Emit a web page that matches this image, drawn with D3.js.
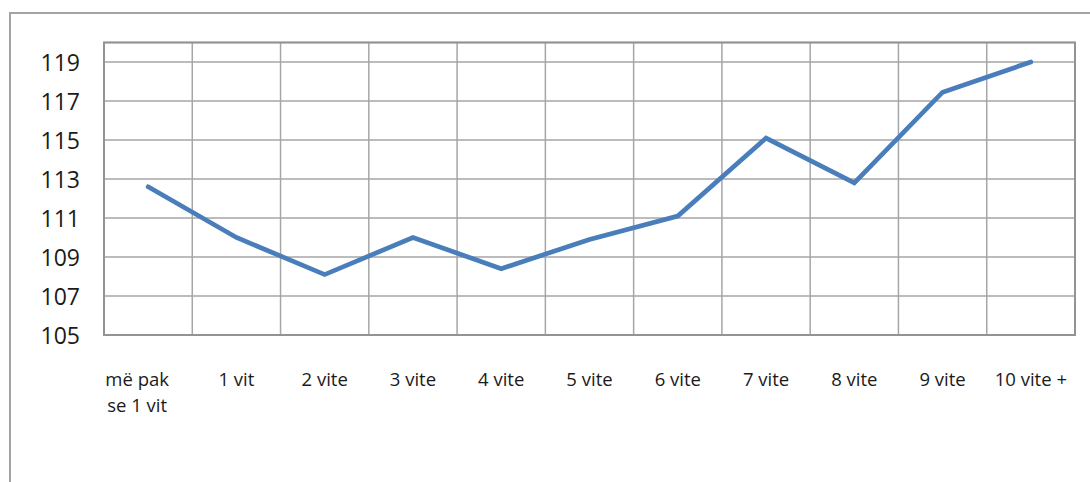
<!DOCTYPE html>
<html>
<head>
<meta charset="utf-8">
<script src="https://cdn.jsdelivr.net/npm/d3@7"></script>
<style>
  html, body { margin: 0; padding: 0; background: #fff; }
  svg { display: block; }
  text { font-family: "Open Sans", "Noto Sans", sans-serif; fill: #1a1a1a; }
</style>
</head>
<body>
<svg id="chart" width="1090" height="482"></svg>
<script>
// Categories (years of service) and the index value for each
const categories = [["më pak", "se 1 vit"], ["1 vit"], ["2 vite"], ["3 vite"], ["4 vite"], ["5 vite"], ["6 vite"], ["7 vite"], ["8 vite"], ["9 vite"], ["10 vite +"]];
const values = [112.6, 110.0, 108.1, 110.0, 108.4, 109.9, 111.1, 115.1, 112.8, 117.45, 119.0];
const yTickLabels = [105, 107, 109, 111, 113, 115, 117, 119];
const yGridValues = [105, 107, 109, 111, 113, 115, 117, 119, 120];

const svg = d3.select("#chart");

// Outer chart frame (continues past the right and bottom edges)
svg.append("path")
  .attr("d", "M10,490 L10,13 L1100,13")
  .attr("fill", "none")
  .attr("stroke", "#a3a3a3")
  .attr("stroke-width", 2);

const plot = { left: 104, right: 1075, top: 42.5, bottom: 335 };

const x = d3.scaleBand()
  .domain(d3.range(categories.length))
  .range([plot.left, plot.right])
  .paddingInner(0).paddingOuter(0);

const y = d3.scaleLinear()
  .domain([105, 120])
  .range([plot.bottom, plot.top]);

// Horizontal gridlines
svg.append("g")
  .selectAll("line")
  .data(yGridValues)
  .join("line")
  .attr("x1", plot.left).attr("x2", plot.right)
  .attr("y1", d => y(d)).attr("y2", d => y(d))
  .attr("stroke", "#a6a6a6")
  .attr("stroke-width", 1.5);

// Vertical gridlines at category boundaries
const bounds = d3.range(categories.length + 1).map(i => i < categories.length ? x(i) : plot.right);
svg.append("g")
  .selectAll("line")
  .data(bounds)
  .join("line")
  .attr("x1", d => d).attr("x2", d => d)
  .attr("y1", plot.top).attr("y2", plot.bottom)
  .attr("stroke", "#a6a6a6")
  .attr("stroke-width", 1.5);

// Plot area border
svg.append("rect")
  .attr("x", plot.left).attr("y", plot.top)
  .attr("width", plot.right - plot.left)
  .attr("height", plot.bottom - plot.top)
  .attr("fill", "none")
  .attr("stroke", "#939393")
  .attr("stroke-width", 2);

// Y-axis labels
const yAxis = d3.axisLeft(y).tickValues(yTickLabels).tickSize(0).tickPadding(0);
const yG = svg.append("g")
  .attr("transform", "translate(80,0)")
  .call(yAxis);
yG.select(".domain").remove();
yG.selectAll("text")
  .attr("x", 0)
  .attr("dy", "0.35em")
  .style("font-size", "23px")
  .style("font-family", "'Open Sans', 'Noto Sans', sans-serif")
  .attr("fill", "#1a1a1a");

// X-axis category labels
const xLabels = svg.append("g");
categories.forEach((lines, i) => {
  const t = xLabels.append("text")
    .attr("text-anchor", "middle")
    .attr("x", x(i) + x.bandwidth() / 2 - (lines.length > 1 ? 11 : 0))
    .attr("y", 386)
    .style("font-size", "18.5px");
  lines.forEach((ln, j) => {
    t.append("tspan")
      .attr("x", x(i) + x.bandwidth() / 2 - (lines.length > 1 ? 11 : 0))
      .attr("dy", j === 0 ? 0 : 25.5)
      .text(ln);
  });
});

// Data line
const line = d3.line()
  .x((d, i) => x(i) + x.bandwidth() / 2)
  .y(d => y(d));

svg.append("path")
  .datum(values)
  .attr("d", line)
  .attr("fill", "none")
  .attr("stroke", "#4a7ebb")
  .attr("stroke-width", 4.7)
  .attr("stroke-linejoin", "miter")
  .attr("stroke-linecap", "round");
</script>
</body>
</html>
